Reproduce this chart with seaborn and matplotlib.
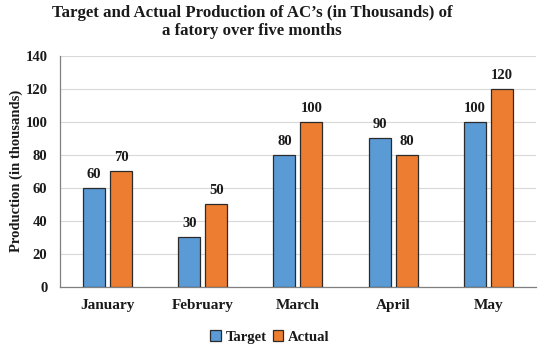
import matplotlib
matplotlib.use("Agg")
import matplotlib.pyplot as plt
import seaborn as sns
import pandas as pd

months = ["January", "February", "March", "April", "May"]
target = [60, 30, 80, 90, 100]
actual = [70, 50, 100, 80, 120]
series = ["Target", "Actual"]
colors = ["#5B9BD5", "#ED7D31"]

df = pd.DataFrame({
    "Month": months * 2,
    "Value": target + actual,
    "Series": [series[0]] * len(months) + [series[1]] * len(months),
})

sns.set_theme(style="white")
plt.rcParams["font.family"] = ["Liberation Serif", "DejaVu Serif"]
plt.rcParams["font.weight"] = "bold"

fig = plt.figure(figsize=(5.6, 3.48), dpi=100)
ax = fig.add_axes([0.1071, 0.1753, 0.85, 0.6647])

sns.barplot(data=df, x="Month", y="Value", hue="Series", palette=colors,
            saturation=1, width=0.567, gap=0.185, edgecolor="#2b2b2b", linewidth=0.9,
            ax=ax, zorder=3)

for cont in ax.containers:
    ax.bar_label(cont, fmt="%d", padding=5, fontsize=10.5, fontweight="bold", color="#1a1a1a")

ax.set_ylim(0, 140)
ax.set_yticks(range(0, 141, 20))
ax.yaxis.grid(True, color="#d9d9d9", linewidth=0.8, zorder=0)
ax.set_axisbelow(True)
for s in ["top", "right"]:
    ax.spines[s].set_visible(False)
ax.spines["left"].set_color("#808080")
ax.spines["bottom"].set_color("#808080")
ax.spines["left"].set_linewidth(0.9)
ax.spines["bottom"].set_linewidth(0.9)

ax.tick_params(axis="y", length=0, labelsize=10.5, colors="#1a1a1a", pad=9)
ax.tick_params(axis="x", length=0, labelsize=11, colors="#1a1a1a", pad=9)
for lbl in ax.get_xticklabels() + ax.get_yticklabels():
    lbl.set_fontweight("bold")

ax.set_xlabel("")
ax.set_ylabel("Production (in thousands)", fontsize=10.5, fontweight="bold", color="#1a1a1a", labelpad=2)

fig.suptitle("Target and Actual Production of AC\u2019s (in Thousands) of\na fatory over five months",
             x=0.45, y=0.985, fontsize=12.1, fontweight="bold", color="#1a1a1a", linespacing=1.15)

ax.get_legend().remove()
handles, labels = ax.get_legend_handles_labels()
leg = fig.legend(handles, labels, loc="center", bbox_to_anchor=(270 / 560, 11 / 348), ncol=2, frameon=False,
                 fontsize=10.5, handlelength=0.7, handleheight=0.7, handletextpad=0.35, columnspacing=0.4)
for t in leg.get_texts():
    t.set_fontweight("bold")
    t.set_color("#1a1a1a")

fig.savefig("out.png", dpi=100)
